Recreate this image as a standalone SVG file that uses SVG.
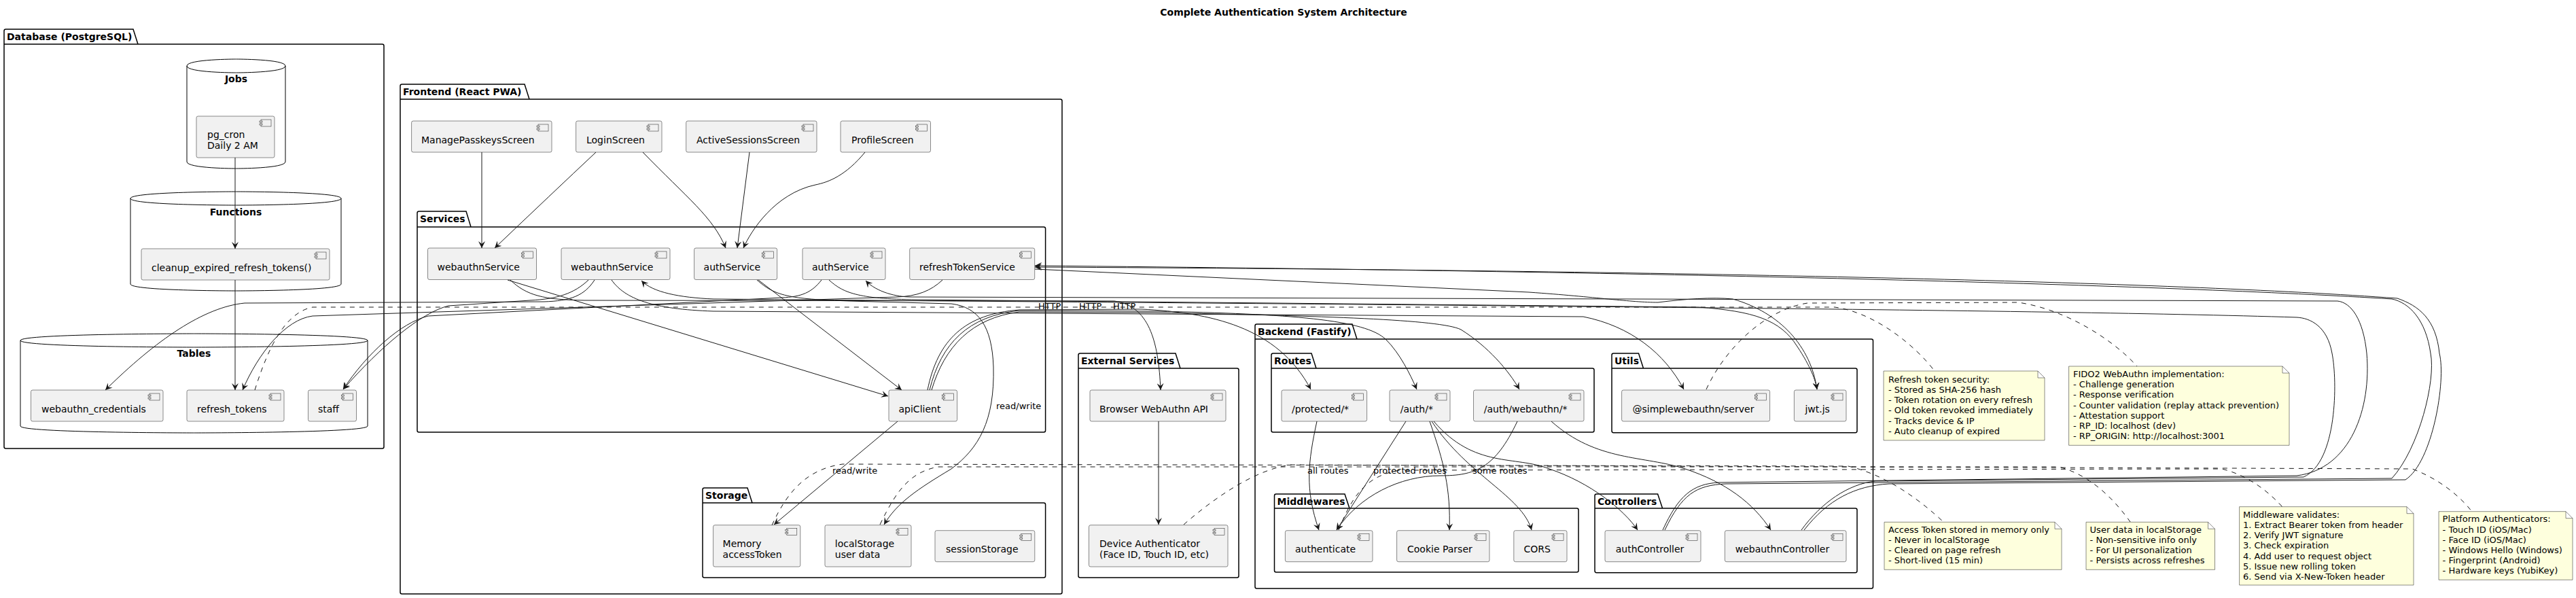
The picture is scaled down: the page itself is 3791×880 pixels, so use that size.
<svg xmlns="http://www.w3.org/2000/svg" xmlns:xlink="http://www.w3.org/1999/xlink" width="3791" height="880" viewBox="0 0 3791 880">
<style>
.pkg{fill:none;stroke:#000;stroke-width:1.5}
.cyl{fill:none;stroke:#000;stroke-width:1}
.node{fill:#F1F1F1;stroke:#181818;stroke-width:0.5}
.note{fill:#FEFFDD;stroke:#181818;stroke-width:0.5}
.e{fill:none;stroke:#181818;stroke-width:1;marker-end:url(#ah)}
.d{fill:none;stroke:#181818;stroke-width:1;stroke-dasharray:7,7}
text{font-family:"DejaVu Sans","Liberation Sans",sans-serif;fill:#000}
.t{font-size:14px}
.b{font-size:14px;font-weight:bold}
.n{font-size:13px}
.l{font-size:13px}
</style>
<defs>
<marker id="ah" viewBox="0 0 10 10" refX="10" refY="5" markerWidth="10" markerHeight="10" markerUnits="userSpaceOnUse" orient="auto">
<path d="M0,0 L10,5 L0,10 L4,5 Z" fill="#181818"/>
</marker>
<g id="ic">
<rect x="-20" y="5" width="15" height="10" fill="#F1F1F1" stroke="#181818" stroke-width="0.5"/>
<rect x="-22" y="7" width="4" height="2" fill="#F1F1F1" stroke="#181818" stroke-width="0.5"/>
<rect x="-22" y="11" width="4" height="2" fill="#F1F1F1" stroke="#181818" stroke-width="0.5"/>
</g>
</defs>
<rect width="3791" height="880" fill="#fff"/>
<text class="b" x="1889" y="23" text-anchor="middle">Complete Authentication System Architecture</text>

<!-- packages -->
<g id="pkg-database">
<path class="pkg" d="M6,657.5 L6,45.5 Q6,43 8.5,43 L196,43 L203,65 L562.5,65 Q565,65 565,67.5 L565,657.5 Q565,660 562.5,660 L8.5,660 Q6,660 6,657.5 Z M6,65 L203,65"/>
<text class="b" x="10" y="59">Database (PostgreSQL)</text>
<path class="cyl" d="M275,97 C275,87 347.5,87 347.5,87 C347.5,87 420,87 420,97 L420,238 C420,248 347.5,248 347.5,248 C347.5,248 275,248 275,238 Z M275,97 C275,107 347.5,107 347.5,107 C347.5,107 420,107 420,97"/>
<text class="b" x="347.5" y="121" text-anchor="middle">Jobs</text>
<path class="cyl" d="M192,292 C192,282 347,282 347,282 C347,282 502,282 502,292 L502,418 C502,428 347,428 347,428 C347,428 192,428 192,418 Z M192,292 C192,302 347,302 347,302 C347,302 502,302 502,292"/>
<text class="b" x="347" y="317" text-anchor="middle">Functions</text>
<path class="cyl" d="M30,501 C30,491 285.5,491 285.5,491 C285.5,491 541,491 541,501 L541,627 C541,637 285.5,637 285.5,637 C285.5,637 30,637 30,627 Z M30,501 C30,511 285.5,511 285.5,511 C285.5,511 541,511 541,501"/>
<text class="b" x="285.5" y="525" text-anchor="middle">Tables</text>
</g>
<g id="pkg-frontend">
<path class="pkg" d="M589,871.5 L589,126.5 Q589,124 591.5,124 L772,124 L779,146 L1560.5,146 Q1563,146 1563,148.5 L1563,871.5 Q1563,874 1560.5,874 L591.5,874 Q589,874 589,871.5 Z M589,146 L779,146"/>
<text class="b" x="593" y="140">Frontend (React PWA)</text>
</g>
<g id="pkg-services">
<path class="pkg" d="M614,633.5 L614,313.5 Q614,311 616.5,311 L686,311 L693,334 L1536,334 Q1538.6,334 1538.6,336.5 L1538.6,633.5 Q1538.6,636 1536,636 L616.5,636 Q614,636 614,633.5 Z M614,334 L693,334"/>
<text class="b" x="618" y="327">Services</text>
</g>
<g id="pkg-storage">
<path class="pkg" d="M1034,847.5 L1034,720.5 Q1034,718 1036.5,718 L1100,718 L1107,740 L1536,740 Q1538.6,740 1538.6,742.5 L1538.6,847.5 Q1538.6,850 1536,850 L1036.5,850 Q1034,850 1034,847.5 Z M1034,740 L1107,740"/>
<text class="b" x="1038" y="734">Storage</text>
</g>
<g id="pkg-external">
<path class="pkg" d="M1587,847.5 L1587,522.5 Q1587,520 1589.5,520 L1730,520 L1737,542 L1820.5,542 Q1823,542 1823,544.5 L1823,847.5 Q1823,850 1820.5,850 L1589.5,850 Q1587,850 1587,847.5 Z M1587,542 L1737,542"/>
<text class="b" x="1591" y="536">External Services</text>
</g>
<g id="pkg-backend">
<path class="pkg" d="M1847,863.5 L1847,479.5 Q1847,477 1849.5,477 L1990,477 L1997,499 L2754,499 Q2756.5,499 2756.5,501.5 L2756.5,863.5 Q2756.5,866 2754,866 L1849.5,866 Q1847,866 1847,863.5 Z M1847,499 L1997,499"/>
<text class="b" x="1851" y="493">Backend (Fastify)</text>
</g>
<g id="pkg-routes">
<path class="pkg" d="M1871,633.5 L1871,522.5 Q1871,520 1873.5,520 L1930,520 L1937,542 L2343.5,542 Q2346,542 2346,544.5 L2346,633.5 Q2346,636 2343.5,636 L1873.5,636 Q1871,636 1871,633.5 Z M1871,542 L1937,542"/>
<text class="b" x="1875" y="536">Routes</text>
</g>
<g id="pkg-utils">
<path class="pkg" d="M2372,634 L2372,522.5 Q2372,520 2374.5,520 L2411.5,520 L2418.5,542 L2730.5,542 Q2733,542 2733,544.5 L2733,634 Q2733,636.7 2730.5,636.7 L2374.5,636.7 Q2372,636.7 2372,634 Z M2372,542 L2418.5,542"/>
<text class="b" x="2376" y="536">Utils</text>
</g>
<g id="pkg-middlewares">
<path class="pkg" d="M1875.5,839.5 L1875.5,729.5 Q1875.5,727 1878,727 L1979,727 L1986,748 L2320.5,748 Q2323,748 2323,750.5 L2323,839.5 Q2323,842 2320.5,842 L1878,842 Q1875.5,842 1875.5,839.5 Z M1875.5,748 L1986,748"/>
<text class="b" x="1879.5" y="743">Middlewares</text>
</g>
<g id="pkg-controllers">
<path class="pkg" d="M2347,840 L2347,729.5 Q2347,727 2349.5,727 L2439.6,727 L2446.6,748 L2730.5,748 Q2733,748 2733,750.5 L2733,840 Q2733,842.7 2730.5,842.7 L2349.5,842.7 Q2347,842.7 2347,840 Z M2347,748 L2446.6,748"/>
<text class="b" x="2351" y="743">Controllers</text>
</g>

<!-- connectors -->
<g id="connectors">
<path class="e" d="M346,232 L346,366"/>
<path class="e" d="M346,412 L346,574"/>
<path class="e" d="M709,224 L709,365"/>
<path class="e" d="M877,224 Q812,285 728,365"/>
<path class="e" d="M946,224 C1010,290 1050,320 1068,365"/>
<path class="e" d="M1103,224 L1085,365"/>
<path class="e" d="M1273,224 C1245,258 1220,268 1200,272 C1140,285 1105,340 1094,365"/>
<path class="e" d="M747,412 L1307,583"/>
<path class="e" d="M1116,412 L1327,574"/>
<path class="e" d="M1321,620 L1139,772"/>
<text class="l" x="1225" y="697">read/write</text>
<path class="e" d="M1114,412 C1140,435 1160,440 1250,443 L1400,447 C1440,452 1460,480 1462,540 C1464,620 1440,660 1400,690 C1350,720 1320,740 1301,772"/>
<text class="l" x="1466" y="602">read/write</text>
<path class="e" d="M1365,574 C1380,500 1420,462 1500,456 L1680,455 C1780,460 1880,480 1929,573"/>
<path class="e" d="M1368,574 C1385,505 1425,465 1500,457 L1700,458 C1900,462 2010,470 2040,500 C2060,520 2075,550 2085,573"/>
<path class="e" d="M1371,574 C1390,510 1430,468 1500,459 L1700,460 C1950,465 2120,470 2150,485 C2190,510 2220,545 2236,573"/>
<text class="l" x="1528" y="455">HTTP</text>
<text class="l" x="1588" y="455">HTTP</text>
<text class="l" x="1638" y="455">HTTP</text>
<path class="e" d="M751,412 C775,435 800,441 860,442 L1640,443 C1690,450 1705,500 1708,574"/>
<path class="e" d="M1705,620 L1705,772"/>
<path class="e" d="M1938,620 C1925,680 1920,720 1941,780"/>
<text class="l" x="1924" y="697">all routes</text>
<path class="e" d="M2069,620 L1967,780"/>
<text class="l" x="2021" y="697">protected routes</text>
<path class="e" d="M2104,620 C2125,680 2135,720 2133,780"/>
<path class="e" d="M2107,620 C2160,700 2240,730 2254,780"/>
<text class="l" x="2167" y="697">some routes</text>
<path class="e" d="M2233,620 C2200,690 2170,700 2120,700 C2060,700 2000,730 1967,780"/>
<path class="e" d="M2110,620 C2170,690 2230,670 2280,690 C2340,710 2390,750 2410,780"/>
<path class="e" d="M2283,620 C2350,680 2420,670 2480,690 C2540,710 2580,740 2606,780"/>
<path class="e" d="M2447,780 C2470,730 2490,712 2530,710 L3380,700 C3460,690 3490,600 3483,520 C3478,470 3460,445 3440,443 L1340,437 C1320,437 1290,430 1274,413"/>
<path class="e" d="M2651,780 C2680,740 2720,712 2760,708 L3390,702 C3440,680 3440,560 3432,520 C3425,480 3400,468 3380,467 C3000,455 2000,448 1050,440 C1000,438 960,430 944,413"/>
<path class="e" d="M2450,780 C2475,728 2495,714 2540,712 L3520,704 C3560,660 3585,560 3577,520 C3570,470 3545,445 3520,440 C3200,420 2500,400 1523,391"/>
<path class="e" d="M2655,780 C2690,735 2730,715 2780,712 L3540,706 C3580,680 3600,560 3590,520 C3585,470 3560,450 3528,439 C3200,415 2500,398 1523,393"/>
<path class="e" d="M1523,396 L2250,430 C2350,437 2400,445 2440,445 C2480,440 2520,437 2550,440 C2620,460 2665,510 2674,573"/>
<path class="e" d="M1220,412 C1240,430 1260,440 1350,441 L2500,452 C2580,458 2620,470 2645,510 C2665,540 2672,560 2674,573"/>
<path class="e" d="M1209,412 C1195,430 1180,437 1150,438 L630,465 C590,475 540,520 505,573"/>
<path class="e" d="M866,412 C845,432 820,440 780,442 L660,450 C620,460 560,510 505,573"/>
<path class="e" d="M875,412 C860,435 840,443 800,444 L360,446 C300,452 230,500 155,574"/>
<path class="e" d="M900,412 C920,440 960,455 1050,458 L2330,466 C2400,480 2450,520 2478,573"/>
<path class="e" d="M1387,412 C1370,428 1350,436 1320,437 L460,465 C420,470 380,520 357,574"/>
<path class="d" d="M375,574 C395,510 420,460 460,452 L2700,452 C2760,460 2820,510 2847,546"/>
<path class="d" d="M2511,573 C2540,510 2600,455 2660,446 L2970,445 C3040,455 3110,500 3145,539"/>
<path class="d" d="M1136,773 C1160,720 1190,690 1240,683 L2720,686 C2780,700 2830,740 2860,768"/>
<path class="d" d="M1295,772 C1320,720 1340,695 1380,687 L3030,687 C3080,700 3115,740 3135,768"/>
<path class="d" d="M1970,780 C1990,730 2010,700 2060,692 L3270,690 C3310,700 3340,725 3359,746"/>
<path class="d" d="M1742,772 C1790,730 1850,690 1900,684 L3550,690 C3590,705 3620,730 3638,753"/>
</g>

<!-- nodes -->
<g id="n-pgcron"><rect class="node" x="289" y="171" width="115" height="61" rx="2.5"/><use href="#ic" x="404" y="171"/><text class="t" x="305" y="203">pg_cron</text><text class="t" x="305" y="219">Daily 2 AM</text></g>
<g id="n-cleanup"><rect class="node" x="208" y="366" width="277" height="46" rx="2.5"/><use href="#ic" x="485" y="366"/><text class="t" x="223" y="398.5">cleanup_expired_refresh_tokens()</text></g>
<g id="n-webauthn-credentials"><rect class="node" x="45.5" y="574" width="194.5" height="46" rx="2.5"/><use href="#ic" x="240" y="574"/><text class="t" x="61" y="606.5">webauthn_credentials</text></g>
<g id="n-refresh-tokens"><rect class="node" x="275" y="574" width="143" height="46" rx="2.5"/><use href="#ic" x="418" y="574"/><text class="t" x="290" y="606.5">refresh_tokens</text></g>
<g id="n-staff"><rect class="node" x="453.5" y="574" width="71" height="46" rx="2.5"/><use href="#ic" x="524.5" y="574"/><text class="t" x="468" y="606.5">staff</text></g>

<g id="n-managepasskeys"><rect class="node" x="605.6" y="178" width="206.4" height="46" rx="2.5"/><use href="#ic" x="812" y="178"/><text class="t" x="620" y="210.5">ManagePasskeysScreen</text></g>
<g id="n-login"><rect class="node" x="847.6" y="178" width="126.4" height="46" rx="2.5"/><use href="#ic" x="974" y="178"/><text class="t" x="863" y="210.5">LoginScreen</text></g>
<g id="n-activesessions"><rect class="node" x="1009.7" y="178" width="192.3" height="46" rx="2.5"/><use href="#ic" x="1202" y="178"/><text class="t" x="1025" y="210.5">ActiveSessionsScreen</text></g>
<g id="n-profile"><rect class="node" x="1237" y="178" width="132.5" height="46" rx="2.5"/><use href="#ic" x="1369.5" y="178"/><text class="t" x="1253" y="210.5">ProfileScreen</text></g>
<g id="n-webauthnservice-1"><rect class="node" x="629.5" y="365" width="160" height="46.5" rx="2.5"/><use href="#ic" x="789.5" y="365"/><text class="t" x="643.5" y="397.5">webauthnService</text></g>
<g id="n-webauthnservice-2"><rect class="node" x="826" y="365" width="160" height="46.5" rx="2.5"/><use href="#ic" x="986" y="365"/><text class="t" x="840" y="397.5">webauthnService</text></g>
<g id="n-authservice-1"><rect class="node" x="1021.6" y="365" width="122" height="46.5" rx="2.5"/><use href="#ic" x="1143.6" y="365"/><text class="t" x="1035.6" y="397.5">authService</text></g>
<g id="n-authservice-2"><rect class="node" x="1181" y="365" width="122" height="46.5" rx="2.5"/><use href="#ic" x="1303" y="365"/><text class="t" x="1195" y="397.5">authService</text></g>
<g id="n-refreshtokenservice"><rect class="node" x="1338.7" y="365" width="184" height="46.5" rx="2.5"/><use href="#ic" x="1522.7" y="365"/><text class="t" x="1353" y="397.5">refreshTokenService</text></g>
<g id="n-apiclient"><rect class="node" x="1308" y="574" width="100.6" height="46" rx="2.5"/><use href="#ic" x="1408.6" y="574"/><text class="t" x="1322.5" y="606.5">apiClient</text></g>
<g id="n-memory"><rect class="node" x="1049.6" y="772.7" width="128.2" height="61.3" rx="2.5"/><use href="#ic" x="1177.8" y="772.7"/><text class="t" x="1063.6" y="805">Memory</text><text class="t" x="1063.6" y="821">accessToken</text></g>
<g id="n-localstorage"><rect class="node" x="1214" y="772.7" width="127" height="61.3" rx="2.5"/><use href="#ic" x="1341" y="772.7"/><text class="t" x="1228.8" y="805">localStorage</text><text class="t" x="1228.8" y="821">user data</text></g>
<g id="n-sessionstorage"><rect class="node" x="1376" y="780.7" width="146.8" height="46" rx="2.5"/><use href="#ic" x="1522.8" y="780.7"/><text class="t" x="1392" y="812.5">sessionStorage</text></g>

<g id="n-browserwebauthn"><rect class="node" x="1604" y="574" width="200" height="46" rx="2.5"/><use href="#ic" x="1804" y="574"/><text class="t" x="1618" y="606.5">Browser WebAuthn API</text></g>
<g id="n-deviceauth"><rect class="node" x="1602.5" y="772.7" width="204.5" height="61.3" rx="2.5"/><use href="#ic" x="1807" y="772.7"/><text class="t" x="1618" y="805">Device Authenticator</text><text class="t" x="1618" y="821">(Face ID, Touch ID, etc)</text></g>

<g id="n-protected"><rect class="node" x="1886" y="574" width="125.6" height="46" rx="2.5"/><use href="#ic" x="2011.6" y="574"/><text class="t" x="1901" y="606.5">/protected/*</text></g>
<g id="n-auth"><rect class="node" x="2045" y="574" width="89" height="46" rx="2.5"/><use href="#ic" x="2134" y="574"/><text class="t" x="2060.7" y="606.5">/auth/*</text></g>
<g id="n-authwebauthn"><rect class="node" x="2168.5" y="574" width="162.5" height="46" rx="2.5"/><use href="#ic" x="2331" y="574"/><text class="t" x="2183.8" y="606.5">/auth/webauthn/*</text></g>
<g id="n-simplewebauthn"><rect class="node" x="2386.6" y="574" width="218" height="46" rx="2.5"/><use href="#ic" x="2604.6" y="574"/><text class="t" x="2402.5" y="606.5">@simplewebauthn/server</text></g>
<g id="n-jwt"><rect class="node" x="2640.4" y="574" width="76.6" height="46" rx="2.5"/><use href="#ic" x="2717" y="574"/><text class="t" x="2656.4" y="606.5">jwt.js</text></g>
<g id="n-authenticate"><rect class="node" x="1891.4" y="780.7" width="128.6" height="46" rx="2.5"/><use href="#ic" x="2020" y="780.7"/><text class="t" x="1906" y="812.5">authenticate</text></g>
<g id="n-cookieparser"><rect class="node" x="2055.6" y="780.7" width="136.4" height="46" rx="2.5"/><use href="#ic" x="2192" y="780.7"/><text class="t" x="2071" y="812.5">Cookie Parser</text></g>
<g id="n-cors"><rect class="node" x="2227.8" y="780.7" width="78.2" height="46" rx="2.5"/><use href="#ic" x="2306" y="780.7"/><text class="t" x="2242.5" y="812.5">CORS</text></g>
<g id="n-authcontroller"><rect class="node" x="2362" y="780.7" width="141" height="46" rx="2.5"/><use href="#ic" x="2503" y="780.7"/><text class="t" x="2377.7" y="812.5">authController</text></g>
<g id="n-webauthncontroller"><rect class="node" x="2538.4" y="780.7" width="178.6" height="46" rx="2.5"/><use href="#ic" x="2717" y="780.7"/><text class="t" x="2553.7" y="812.5">webauthnController</text></g>

<!-- notes -->
<g id="note-refresh">
<path class="note" d="M2772,546 L2999,546 L3009,556 L3009,648 L2772,648 Z M2999,546 L2999,556 L3009,556"/>
<text class="n" x="2779" y="562.7">Refresh token security:</text>
<text class="n" x="2779" y="577.9">- Stored as SHA-256 hash</text>
<text class="n" x="2779" y="593.1">- Token rotation on every refresh</text>
<text class="n" x="2779" y="608.3">- Old token revoked immediately</text>
<text class="n" x="2779" y="623.5">- Tracks device &amp; IP</text>
<text class="n" x="2779" y="638.7">- Auto cleanup of expired</text>
</g>
<g id="note-fido2">
<path class="note" d="M3044.6,539 L3359,539 L3369,549 L3369,655.3 L3044.6,655.3 Z M3359,539 L3359,549 L3369,549"/>
<text class="n" x="3051" y="555">FIDO2 WebAuthn implementation:</text>
<text class="n" x="3051" y="570.2">- Challenge generation</text>
<text class="n" x="3051" y="585.4">- Response verification</text>
<text class="n" x="3051" y="600.6">- Counter validation (replay attack prevention)</text>
<text class="n" x="3051" y="615.8">- Attestation support</text>
<text class="n" x="3051" y="631">- RP_ID: localhost (dev)</text>
<text class="n" x="3051" y="646.2">- RP_ORIGIN: http://localhost:3001</text>
</g>
<g id="note-accesstoken">
<path class="note" d="M2773,768.3 L3024,768.3 L3034,778.3 L3034,838.3 L2773,838.3 Z M3024,768.3 L3024,778.3 L3034,778.3"/>
<text class="n" x="2779" y="783.5">Access Token stored in memory only</text>
<text class="n" x="2779" y="798.7">- Never in localStorage</text>
<text class="n" x="2779" y="813.9">- Cleared on page refresh</text>
<text class="n" x="2779" y="829.1">- Short-lived (15 min)</text>
</g>
<g id="note-userdata">
<path class="note" d="M3070,768.3 L3249.5,768.3 L3259.5,778.3 L3259.5,838.3 L3070,838.3 Z M3249.5,768.3 L3249.5,778.3 L3259.5,778.3"/>
<text class="n" x="3075.6" y="783.5">User data in localStorage</text>
<text class="n" x="3075.6" y="798.7">- Non-sensitive info only</text>
<text class="n" x="3075.6" y="813.9">- For UI personalization</text>
<text class="n" x="3075.6" y="829.1">- Persists across refreshes</text>
</g>
<g id="note-middleware">
<path class="note" d="M3295.6,745.7 L3542,745.7 L3552,755.7 L3552,861 L3295.6,861 Z M3542,745.7 L3542,755.7 L3552,755.7"/>
<text class="n" x="3301" y="761.7">Middleware validates:</text>
<text class="n" x="3301" y="776.9">1. Extract Bearer token from header</text>
<text class="n" x="3301" y="792.1">2. Verify JWT signature</text>
<text class="n" x="3301" y="807.3">3. Check expiration</text>
<text class="n" x="3301" y="822.5">4. Add user to request object</text>
<text class="n" x="3301" y="837.7">5. Issue new rolling token</text>
<text class="n" x="3301" y="852.9">6. Send via X-New-Token header</text>
</g>
<g id="note-platform">
<path class="note" d="M3589,752.7 L3776,752.7 L3786,762.7 L3786,853.3 L3589,853.3 Z M3776,752.7 L3776,762.7 L3786,762.7"/>
<text class="n" x="3594.6" y="768.3">Platform Authenticators:</text>
<text class="n" x="3594.6" y="783.5">- Touch ID (iOS/Mac)</text>
<text class="n" x="3594.6" y="798.7">- Face ID (iOS/Mac)</text>
<text class="n" x="3594.6" y="813.9">- Windows Hello (Windows)</text>
<text class="n" x="3594.6" y="829.1">- Fingerprint (Android)</text>
<text class="n" x="3594.6" y="844.3">- Hardware keys (YubiKey)</text>
</g>
</svg>
